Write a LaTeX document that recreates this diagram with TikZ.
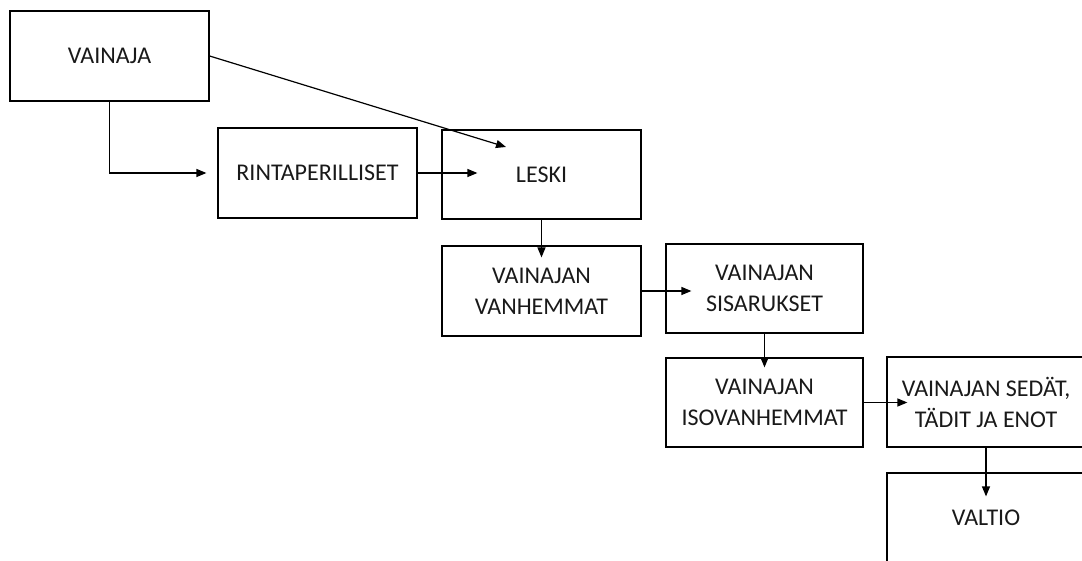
\documentclass[tikz,border=0pt]{standalone}
\usepackage{fontspec}
\setmainfont{Carlito}
\usetikzlibrary{arrows.meta}
\tikzset{
  box/.style={draw=black, line width=1.2pt, align=center, inner sep=0pt,
    font=\fontsize{24}{31}\selectfont, text=black!90},
  conn/.style={draw=black, line width=1.2pt, -{Triangle[length=10pt,width=8pt]}},
  plain/.style={draw=black, line width=1.2pt}
}
\begin{document}
\begin{tikzpicture}[x=1pt,y=1pt]
\useasboundingbox (0,0) rectangle (1082,-561);
\clip (0,0) rectangle (1082,-561);
% boxes (positions in px, y downward)
\node[box, minimum width=199pt, minimum height=90pt] (v) at (109.5,-56) {VAINAJA};
\node[box, minimum width=199pt, minimum height=90pt] (r) at (317.5,-173) {RINTAPERILLISET};
\node[box, minimum width=199pt, minimum height=89pt] (l) at (541.5,-174.5) {LESKI};
\node[box, minimum width=199pt, minimum height=90pt] (vh) at (541.5,-291) {VAINAJAN\\VANHEMMAT};
\node[box, minimum width=197pt, minimum height=89pt] (s) at (764.5,-288.5) {VAINAJAN\\SISARUKSET};
\node[box, minimum width=197pt, minimum height=89pt] (iv) at (764.5,-402.5) {VAINAJAN\\ISOVANHEMMAT};
\node[box, minimum width=198pt, minimum height=90pt] (se) at (986,-402) {VAINAJAN SEDÄT,\\TÄDIT JA ENOT};
\node[box, minimum width=198pt, minimum height=90pt] (va) at (986,-518) {VALTIO};
% arrow tip coordinates
\coordinate (t1) at ([xshift=-11pt]r.west);
\coordinate (t2) at ([shift={(-35.5pt,27.5pt)}]l.center);
\coordinate (t3) at ([xshift=36pt]l.west);
\coordinate (t5) at ([xshift=26pt]s.west);
\coordinate (t7) at ([xshift=21pt]se.west);
% connectors
\draw[conn] (v.south) |- (t1);
\draw[conn] (v.east) -- (t2);
\draw[conn] (r.east) -- (r.east -| t3);
\draw[conn] (l.south) -- ([yshift=-12pt]vh.north);
\draw[conn] (vh.east) -- (vh.east -| t5);
\draw[conn] (s.south) -- ([yshift=-10pt]iv.north);
\draw[conn] (iv.east) -- (iv.east -| t7);
\draw[conn] (se.south) -- ([yshift=-24pt]va.north);
\end{tikzpicture}
\end{document}
